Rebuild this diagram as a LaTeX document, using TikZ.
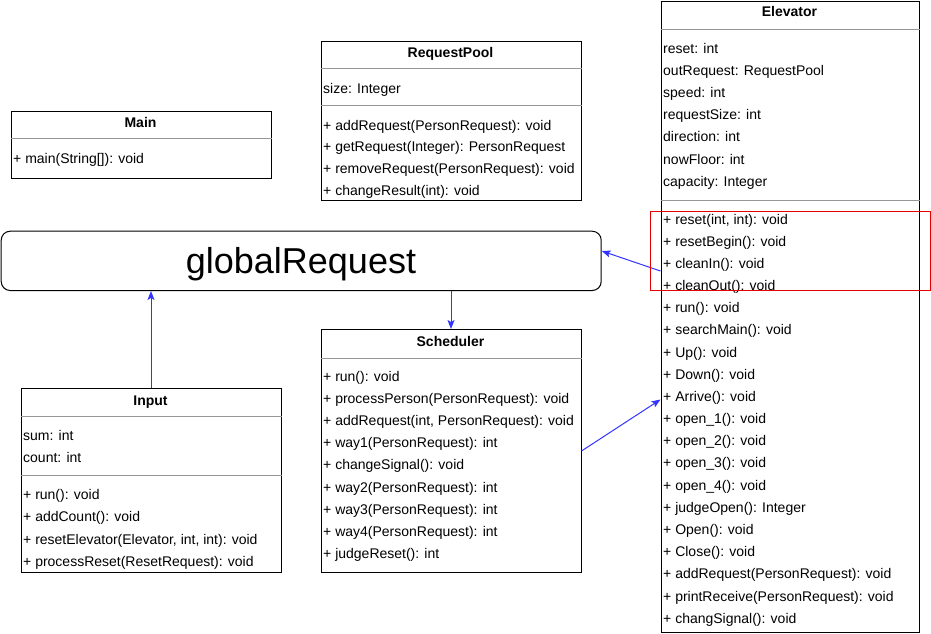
\documentclass[tikz,border=0pt]{standalone}
\usepackage{fontspec}
\setmainfont{Liberation Sans}
\usetikzlibrary{arrows.meta}
\definecolor{connblue}{RGB}{51,51,255}
\definecolor{sepgray}{RGB}{150,150,150}
\definecolor{hlred}{RGB}{230,0,0}
\begin{document}
\begin{tikzpicture}[x=1pt,y=-1pt,
  classbox/.style={draw=black,line width=1pt,fill=white,anchor=north west,inner sep=0pt,minimum width=260pt},
  ctitle/.style={font=\fontsize{14}{16}\selectfont\bfseries,anchor=base,inner sep=0pt},
  row/.style={font=\fontsize{14}{16}\selectfont,anchor=base west,inner sep=0pt},
  sep/.style={draw=sepgray,line width=1pt},
  conn/.style={draw=connblue,line width=1pt,-{Stealth[length=9pt,width=7pt,inset=2pt]}}
]
\useasboundingbox (0,0) rectangle (931,633);

% ---------------- Main ----------------
\node[classbox,minimum height=67.5pt] (main) at (10.5,110.5) {};
\node[ctitle] (mainT) at (140.5,127.3) {Main};
\draw[sep] (main.west |- 0,138.5) -- (main.east |- 0,138.5);
\node[row] (main1) at (13,163.3) {+ main(String[]): void};

% ---------------- RequestPool ----------------
\node[classbox,minimum height=159.5pt] (pool) at (320.5,40.5) {};
\node[ctitle] (poolT) at (450.5,57.3) {RequestPool};
\draw[sep] (pool.west |- 0,68.3) -- (pool.east |- 0,68.3);
\node[row] (pool0) at (323,93.3) {size: Integer};
\draw[sep] (pool.west |- 0,105) -- (pool.east |- 0,105);
\foreach \t [count=\i] in {{+ addRequest(PersonRequest): void},{+ getRequest(Integer): PersonRequest},{+ removeRequest(PersonRequest): void},{+ changeResult(int): void}}
  \node[row] (pool\i) at (323,{130+21.67*(\i-1)}) {\t};

% ---------------- globalRequest ----------------
\node[draw=black,line width=1pt,rounded corners=9pt,anchor=north west,inner sep=0pt,minimum width=600pt,minimum height=59.3pt] (global) at (0.7,230.7) {};
\node[font=\fontsize{36}{40}\selectfont,anchor=base,inner sep=0pt] (globalT) at (301,273.5) {globalRequest};

% ---------------- Scheduler ----------------
\node[classbox,minimum height=243pt] (sched) at (320.5,329) {};
\node[ctitle] (schedT) at (450.5,346.2) {Scheduler};
\draw[sep] (sched.west |- 0,358.3) -- (sched.east |- 0,358.3);
\foreach \t [count=\i] in {{+ run(): void},{+ processPerson(PersonRequest): void},{+ addRequest(int, PersonRequest): void},{+ way1(PersonRequest): int},{+ changeSignal(): void},{+ way2(PersonRequest): int},{+ way3(PersonRequest): int},{+ way4(PersonRequest): int},{+ judgeReset(): int}}
  \node[row] (sched\i) at (323,{381+22.2*(\i-1)}) {\t};

% ---------------- Input ----------------
\node[classbox,minimum height=184pt] (input) at (20.5,388) {};
\node[ctitle] (inputT) at (150.5,405) {Input};
\draw[sep] (input.west |- 0,416.7) -- (input.east |- 0,416.7);
\node[row] (inputA1) at (23,440) {sum: int};
\node[row] (inputA2) at (23,462.2) {count: int};
\draw[sep] (input.west |- 0,475.7) -- (input.east |- 0,475.7);
\foreach \t [count=\i] in {{+ run(): void},{+ addCount(): void},{+ resetElevator(Elevator, int, int): void},{+ processReset(ResetRequest): void}}
  \node[row] (inputM\i) at (23,{499.7+22.2*(\i-1)}) {\t};

% ---------------- Elevator ----------------
\node[classbox,minimum width=258pt,minimum height=631pt] (elev) at (660.5,0.5) {};
\node[ctitle] (elevT) at (789.5,16.7) {Elevator};
\draw[sep] (elev.west |- 0,29) -- (elev.east |- 0,29);
\foreach \t [count=\i] in {{reset: int},{outRequest: RequestPool},{speed: int},{requestSize: int},{direction: int},{nowFloor: int},{capacity: Integer}}
  \node[row] (elevA\i) at (663,{53+22.2*(\i-1)}) {\t};
\draw[sep] (elev.west |- 0,200.7) -- (elev.east |- 0,200.7);
\foreach \t [count=\i] in {{+ reset(int, int): void},{+ resetBegin(): void},{+ cleanIn(): void},{+ cleanOut(): void},{+ run(): void},{+ searchMain(): void},{+ Up(): void},{+ Down(): void},{+ Arrive(): void},{+ open\_1(): void},{+ open\_2(): void},{+ open\_3(): void},{+ open\_4(): void},{+ judgeOpen(): Integer},{+ Open(): void},{+ Close(): void},{+ addRequest(PersonRequest): void},{+ printReceive(PersonRequest): void},{+ changSignal(): void}}
  \node[row] (elevM\i) at (663,{224+22.18*(\i-1)}) {\t};

% ---------------- connectors ----------------
\draw[conn] (input.north) -- (input.north |- global.south);
\draw[conn] (global.south -| sched.north) -- (sched.north);
\coordinate (elevOut) at (elev.west |- 0,271);
\coordinate (globalIn) at (global.east |- 0,251);
\draw[conn] (elevOut) -- (globalIn);
\coordinate (schedOut) at (sched.east |- 0,451);
\coordinate (elevIn) at (elev.west |- 0,399.5);
\draw[conn] (schedOut) -- (elevIn);

% ---------------- highlight ----------------
\node[draw=hlred,line width=1pt,anchor=north west,inner sep=0pt,minimum width=280pt,minimum height=79.3pt] (highlight) at (650,210.7) {};
\end{tikzpicture}
\end{document}
